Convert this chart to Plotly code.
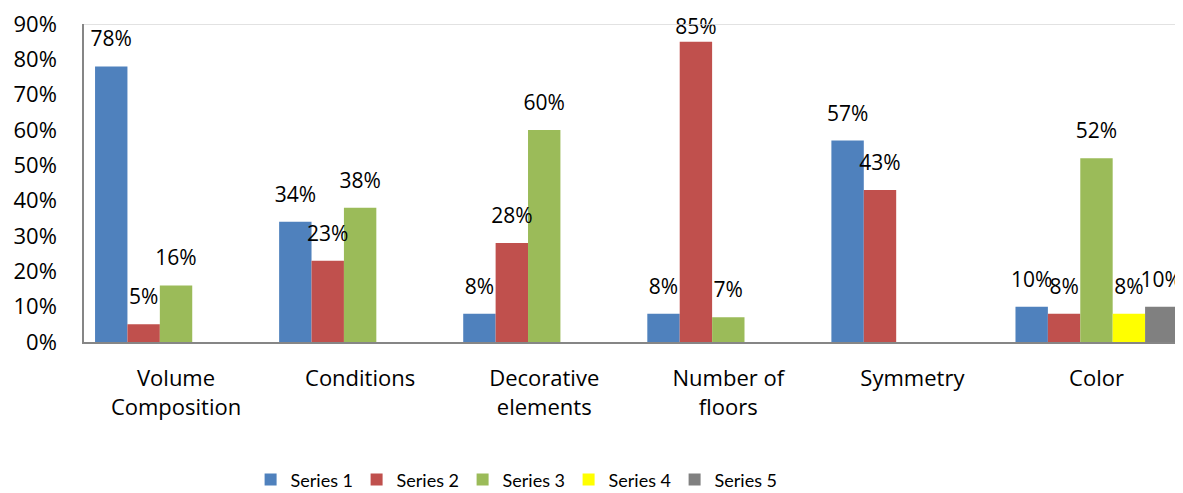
import plotly.graph_objects as go

categories = ["Volume<br>Composition", "Conditions", "Decorative<br>elements",
              "Number of<br>floors", "Symmetry", "Color"]
series_names = ["Series 1", "Series 2", "Series 3", "Series 4", "Series 5"]
series1 = [0.78, 0.34, 0.08, 0.08, 0.57, 0.10]
series2 = [0.05, 0.23, 0.28, 0.85, 0.43, 0.08]
series3 = [0.16, 0.38, 0.60, 0.07, None, 0.52]
series4 = [None, None, None, None, None, 0.08]
series5 = [None, None, None, None, None, 0.10]
colors = ["#4F81BD", "#C0504D", "#9BBB59", "#FFFF00", "#808080"]

FONT = "Open Sans"
all_series = [series1, series2, series3, series4, series5]
# label offset (invisible marker size); the tallest label is pulled down to stay inside the chart
label_offsets = [[22] * 6, [22, 22, 22, 2, 22, 22], [22] * 6, [22] * 6, [22] * 6]

fig = go.Figure()
for name, vals, col in zip(series_names, all_series, colors):
    fig.add_trace(go.Bar(x=categories, y=vals, name=name, marker_color=col,
                         marker_line=dict(width=0), offsetgroup=name, hoverinfo="skip"))
for name, vals, offs in zip(series_names, all_series, label_offsets):
    fig.add_trace(go.Scatter(
        x=categories, y=vals, mode="markers+text", offsetgroup=name,
        text=[None if v is None else f"{round(v*100)}%" for v in vals],
        textposition="top center", showlegend=False, hoverinfo="skip",
        marker=dict(size=offs, opacity=0), cliponaxis=False,
        textfont=dict(family=FONT, size=21, color="#000000")))

fig.update_layout(
    width=1175, height=485,
    margin=dict(l=76, r=0, t=13, b=151),
    paper_bgcolor="white", plot_bgcolor="white",
    barmode="group", bargap=0.12, scattermode="group", scattergap=0.12,
    font=dict(family=FONT, size=22, color="#000000"),
    showlegend=True,
    legend=dict(orientation="h", xref="container", x=0.432, xanchor="center",
                yref="container", y=0.027, yanchor="middle",
                font=dict(family="Lato", size=18), itemwidth=30,
                entrywidth=61, entrywidthmode="pixels",
                traceorder="normal"),
    xaxis=dict(showline=True, linecolor="#868686", linewidth=1.5,
               range=[-0.5, 5.47],
               showgrid=False, ticks="", ticklabelstandoff=16),
    yaxis=dict(range=[0, 0.9], dtick=0.1, tickformat=".0%",
               showline=True, linecolor="#868686", linewidth=1.5,
               showgrid=False, zeroline=False, ticks="", ticklabelstandoff=21,
               ticklabeloverflow="allow"),
    shapes=[dict(type="line", xref="paper", yref="y", x0=0, x1=1, y0=0.9, y1=0.9,
                 line=dict(color="#D9D9D9", width=1.5))],
)

fig.write_html("out.html")
